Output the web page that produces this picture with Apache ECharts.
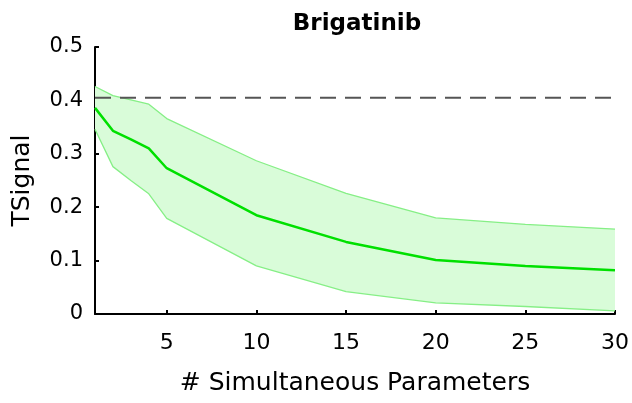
<!DOCTYPE html>
<html>
<head>
<meta charset="utf-8">
<script src="https://cdn.jsdelivr.net/npm/echarts@6/dist/echarts.min.js"></script>
<style>
  html, body { margin: 0; padding: 0; background: #fff; }
  #chart { width: 632px; height: 403px; }
</style>
</head>
<body>
<div id="chart"></div>
<script>
// number of simultaneous parameters
var xs = [1, 2, 3, 4, 5, 10, 15, 20, 25, 30];
// mean TSignal and the band around it
var meanVals = [0.386, 0.343, 0.327, 0.310, 0.273, 0.185, 0.135, 0.101, 0.090, 0.082];
var upperVals = [0.426, 0.409, 0.401, 0.393, 0.366, 0.287, 0.226, 0.180, 0.168, 0.159];
var lowerVals = [0.346, 0.276, 0.250, 0.225, 0.179, 0.090, 0.042, 0.021, 0.014, 0.006];
var thresholdVal = 0.405;
var xTicks = [5, 10, 15, 20, 25, 30];

var myChart = echarts.init(document.getElementById("chart"));

function pairs(vals) {
  var out = [];
  for (var i = 0; i < xs.length; i++) out.push([xs[i], vals[i]]);
  return out;
}

// filled band between lower and upper, placed through the axes
function renderBand(params, api) {
  var pts = [];
  for (var i = 0; i < xs.length; i++) pts.push(api.coord([xs[i], upperVals[i]]));
  for (var j = xs.length - 1; j >= 0; j--) pts.push(api.coord([xs[j], lowerVals[j]]));
  return {
    type: "polygon",
    shape: { points: pts },
    style: { fill: "#d9fcd9", stroke: null }
  };
}

var font = "DejaVu Sans";
var edgeColor = "#86ef86";
var option = {
  backgroundColor: "#fff",
  animation: false,
  title: {
    text: "Brigatinib",
    left: 352,
    top: 8,
    textAlign: "center",
    textStyle: { fontFamily: font, fontWeight: "bold", fontSize: 23, color: "#000" }
  },
  grid: { left: 95, right: 17, top: 47, bottom: 89 },
  xAxis: {
    type: "value",
    min: 1,
    max: 30,
    name: "# Simultaneous Parameters",
    nameLocation: "middle",
    nameGap: 57,
    nameTextStyle: { fontFamily: font, fontSize: 25, color: "#000" },
    axisLine: { lineStyle: { color: "#000", width: 2 } },
    axisTick: { inside: true, length: 4, customValues: xTicks, lineStyle: { color: "#000", width: 2 } },
    axisLabel: { customValues: xTicks, margin: 18, fontFamily: font, fontSize: 22, color: "#000" },
    splitLine: { show: false }
  },
  yAxis: {
    type: "value",
    min: 0,
    max: 0.5,
    interval: 0.1,
    name: "TSignal",
    nameLocation: "middle",
    nameGap: 60,
    nameTextStyle: { fontFamily: font, fontSize: 25, color: "#000" },
    axisLine: { show: true, lineStyle: { color: "#000", width: 2 } },
    axisTick: { show: true, inside: true, length: 4, lineStyle: { color: "#000", width: 2 } },
    axisLabel: { margin: 12, fontFamily: font, fontSize: 21, color: "#000" },
    splitLine: { show: false }
  },
  series: [
    {
      name: "band",
      type: "custom",
      renderItem: renderBand,
      data: [[xs[0], lowerVals[0]]],
      silent: true,
      z: 1
    },
    {
      name: "upper",
      type: "line",
      symbol: "none",
      data: pairs(upperVals),
      lineStyle: { color: edgeColor, width: 1.3 },
      z: 2
    },
    {
      name: "lower",
      type: "line",
      symbol: "none",
      data: pairs(lowerVals),
      lineStyle: { color: edgeColor, width: 1.3 },
      z: 2
    },
    {
      name: "threshold",
      type: "line",
      symbol: "none",
      data: [[1, thresholdVal], [30, thresholdVal]],
      lineStyle: { color: "#555", width: 2, type: [16, 9] },
      z: 3
    },
    {
      name: "mean",
      type: "line",
      symbol: "none",
      data: pairs(meanVals),
      lineStyle: { color: "#00e000", width: 2.5 },
      z: 4
    }
  ]
};

myChart.setOption(option);
</script>
</body>
</html>
